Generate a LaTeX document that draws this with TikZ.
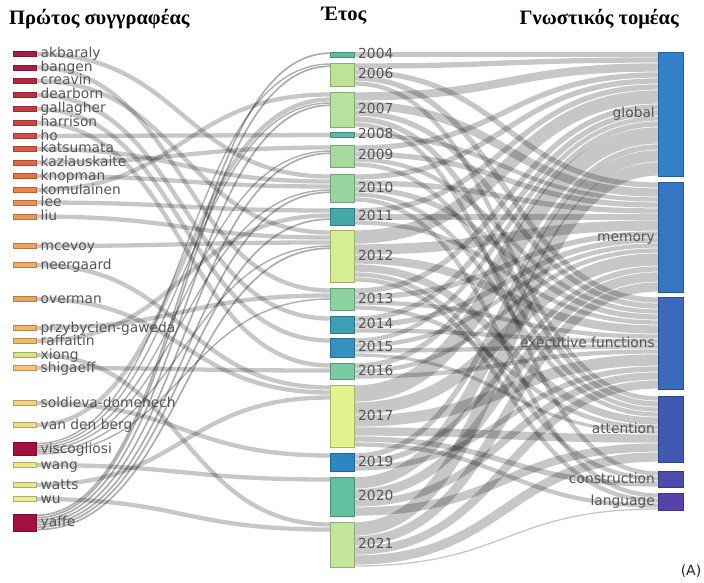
\documentclass[tikz,border=0pt]{standalone}
\usepackage{fontspec}
\setmainfont{DejaVu Sans}
\newfontfamily\ttlfont{Liberation Serif}
\usetikzlibrary{backgrounds}
\definecolor{lblgray}{HTML}{555555}
% authors
\definecolor{cakb}{HTML}{A41E46}\definecolor{cban}{HTML}{A91E44}\definecolor{ccre}{HTML}{B22843}
\definecolor{cdea}{HTML}{BA3244}\definecolor{cgal}{HTML}{C13A44}\definecolor{char}{HTML}{CB4543}
\definecolor{cho}{HTML}{D24E44}\definecolor{ckat}{HTML}{DB5B43}\definecolor{ckaz}{HTML}{E06844}
\definecolor{ckno}{HTML}{E67546}\definecolor{ckom}{HTML}{EC834B}\definecolor{clee}{HTML}{EE9050}
\definecolor{cliu}{HTML}{F09654}\definecolor{cmce}{HTML}{F3A45A}\definecolor{cnee}{HTML}{F3AA5E}
\definecolor{cove}{HTML}{EBA560}\definecolor{cprz}{HTML}{F5B466}\definecolor{craf}{HTML}{F3BA6B}
\definecolor{cxio}{HTML}{D9E485}\definecolor{cshi}{HTML}{F5C472}\definecolor{csol}{HTML}{F3D27E}
\definecolor{cvdb}{HTML}{F2DC86}\definecolor{cvis}{HTML}{A3103F}\definecolor{cwan}{HTML}{EEE58B}
\definecolor{cwat}{HTML}{E9E48E}\definecolor{cwu}{HTML}{E8EC92}\definecolor{cyaf}{HTML}{A30F40}
% years
\definecolor{c2004}{HTML}{5DBFA0}\definecolor{c2006}{HTML}{BDE495}\definecolor{c2007}{HTML}{B5E29C}
\definecolor{c2008}{HTML}{5ABBA2}\definecolor{c2009}{HTML}{A6DBA0}\definecolor{c2010}{HTML}{98D5A1}
\definecolor{c2011}{HTML}{45A9A9}\definecolor{c2012}{HTML}{D5EE93}\definecolor{c2013}{HTML}{8DD2A1}
\definecolor{c2014}{HTML}{3B9FB7}\definecolor{c2015}{HTML}{3591BE}\definecolor{c2016}{HTML}{77CCA1}
\definecolor{c2017}{HTML}{E2F28C}\definecolor{c2019}{HTML}{2E86C1}\definecolor{c2020}{HTML}{62C1A2}
\definecolor{c2021}{HTML}{C3E69A}
% domains
\definecolor{cG}{HTML}{3382C9}\definecolor{cM}{HTML}{3576C1}\definecolor{cE}{HTML}{3A69BD}
\definecolor{cA}{HTML}{3F59B2}\definecolor{cC}{HTML}{4A4DAB}\definecolor{cL}{HTML}{5543A8}

\tikzset{
  anybar/.style={anchor=north west, inner sep=0pt, outer sep=0pt, fill=#1, draw=#1!75!black, line width=0.5pt},
  abar/.style={anybar=#1, minimum width=23pt},
  ybar/.style={anybar=#1, minimum width=24pt},
  dbar/.style={anybar=#1, minimum width=25pt},
  lbltext/.style={font=\fontsize{13.8}{16}\selectfont, text=lblgray, inner sep=0pt, text height=9pt, text depth=1pt},
  alab/.style={lbltext, label distance=4.5pt},
  ylab/.style={lbltext, label distance=4pt},
  dlab/.style={lbltext, label distance=3pt},
  ttl/.style={font=\ttlfont\bfseries\fontsize{20.5}{24}\selectfont, inner sep=0pt},
  flow/.style={draw=black, draw opacity=0.22, line cap=butt},
  thinflow/.style={draw=black, draw opacity=0.32, line cap=butt},
}
\newcommand\auth[5]{\node[abar=#4, minimum height=#3pt, label={[alab]right:#5}] (#1) at (13,#2) {};}
\newcommand\yr[3]{\node[ybar=c#1, minimum height=#3pt, label={[ylab]right:#1}] (y#1) at (330,#2) {};}
\newcommand\dom[5]{\node[dbar=#4, minimum height=#3pt, label={[dlab]left:#5}] (#1) at (658,#2) {};}
% link: source, target, width, control distance, style
\newcommand\lnk[5]{%
  \ifcsname o@#1\endcsname\else\expandafter\gdef\csname o@#1\endcsname{0}\fi
  \ifcsname i@#2\endcsname\else\expandafter\gdef\csname i@#2\endcsname{0}\fi
  \pgfmathsetmacro\sOff{\csname o@#1\endcsname+#3/2}%
  \pgfmathsetmacro\tOff{\csname i@#2\endcsname+#3/2}%
  \pgfmathsetmacro\sNew{\csname o@#1\endcsname+#3}%
  \pgfmathsetmacro\tNew{\csname i@#2\endcsname+#3}%
  \expandafter\xdef\csname o@#1\endcsname{\sNew}%
  \expandafter\xdef\csname i@#2\endcsname{\tNew}%
  \pgfmathsetmacro\lw{max(#3-0.7,0.9)}%
  \draw[#5, line width=\lw pt] ([yshift=-\sOff pt]#1.north east) .. controls +(#4pt,0pt) and +(-#4pt,0pt) .. ([yshift=-\tOff pt]#2.north west);%
}
\newcommand\al[3]{\lnk{#1}{#2}{#3}{147}{flow}}
\newcommand\tl[3]{\lnk{#1}{#2}{#3}{147}{thinflow}}
\newcommand\dl[3]{\lnk{#1}{#2}{#3}{152}{flow}}

\begin{document}
\begin{tikzpicture}[x=1pt,y=-1pt]
\path[use as bounding box] (0,0) rectangle (704,583);

% titles
\node[ttl, anchor=base west] (t1) at (9,25) {Πρώτος συγγραφέας};
\node[ttl, anchor=base] (t2) at (344,21) {Έτος};
\node[ttl, anchor=base east] (t3) at (679,25) {Γνωστικός τομέας};
\node[font=\fontsize{14}{16}\selectfont, text=black!85, inner sep=0pt] (tA) at (691,571) {(A)};

% authors
\auth{akb}{51.5}{5}{cakb}{akbaraly}
\auth{ban}{65}{5}{cban}{bangen}
\auth{cre}{78.5}{5}{ccre}{creavin}
\auth{dea}{92.5}{5}{cdea}{dearborn}
\auth{gal}{106.5}{5}{cgal}{gallagher}
\auth{har}{120.5}{5}{char}{harrison}
\auth{ho}{133.5}{5}{cho}{ho}
\auth{kat}{146.5}{5}{ckat}{katsumata}
\auth{kaz}{160}{5}{ckaz}{kazlauskaite}
\auth{kno}{173.5}{5}{ckno}{knopman}
\auth{kom}{187.5}{5}{ckom}{komulainen}
\auth{lee}{200}{5}{clee}{lee}
\auth{liu}{214}{5}{cliu}{liu}
\auth{mce}{243.5}{5}{cmce}{mcevoy}
\auth{nee}{262.5}{5}{cnee}{neergaard}
\auth{ove}{296.5}{5}{cove}{overman}
\auth{prz}{325.5}{5}{cprz}{przybycien-gaweda}
\auth{raf}{338.5}{5}{craf}{raffaitin}
\auth{xio}{352.5}{5}{cxio}{xiong}
\auth{shi}{365.5}{5}{cshi}{shigaeff}
\auth{sol}{400.5}{5}{csol}{soldieva-domenech}
\auth{vdb}{422.5}{5}{cvdb}{van den berg}
\auth{vis}{442.5}{13}{cvis}{viscogliosi}
\auth{wan}{462.5}{5}{cwan}{wang}
\auth{wat}{482.5}{5}{cwat}{watts}
\auth{wu}{496.5}{5}{cwu}{wu}
\auth{yaf}{514}{17}{cyaf}{yaffe}

% years
\yr{2004}{52}{5}
\yr{2006}{63}{23}
\yr{2007}{92}{35}
\yr{2008}{132.5}{5}
\yr{2009}{145}{22}
\yr{2010}{174}{28}
\yr{2011}{208}{17}
\yr{2012}{230}{52}
\yr{2013}{288}{22}
\yr{2014}{316}{17}
\yr{2015}{338}{19}
\yr{2016}{363}{16}
\yr{2017}{385}{62}
\yr{2019}{453}{18}
\yr{2020}{477}{39}
\yr{2021}{522}{45}

% domains
\dom{dG}{52}{124}{cG}{global}
\dom{dM}{182}{110}{cM}{memory}
\dom{dE}{297}{92}{cE}{executive functions}
\dom{dA}{396}{66}{cA}{attention}
\dom{dC}{471}{16}{cC}{construction}
\dom{dL}{493}{17}{cL}{language}

\begin{scope}[on background layer]
\fill[white] (0,0) rectangle (704,583);
% author -> year
\al{akb}{y2010}{5}
\al{ban}{y2013}{5}
\al{cre}{y2012}{5}
\al{dea}{y2014}{5}
\al{gal}{y2015}{5}
\al{har}{y2016}{5}
\al{ho}{y2008}{5}
\al{kat}{y2010}{5}
\al{kaz}{y2009}{5}
\al{kno}{y2010}{5}
\al{kom}{y2007}{5}
\al{lee}{y2011}{5}
\al{liu}{y2012}{5}
\al{mce}{y2012}{5}
\al{nee}{y2017}{5}
\al{ove}{y2017}{5}
\al{prz}{y2013}{5}
\al{raf}{y2011}{5}
\al{xio}{y2021}{5}
\al{shi}{y2016}{5}
\al{sol}{y2019}{5}
\al{vdb}{y2007}{5}
\tl{vis}{y2006}{2.1}
\tl{vis}{y2007}{2.1}
\tl{vis}{y2009}{2.1}
\tl{vis}{y2010}{2.1}
\tl{vis}{y2012}{2.1}
\tl{vis}{y2013}{2.1}
\al{wan}{y2020}{5}
\al{wat}{y2017}{5}
\al{wu}{y2021}{5}
\tl{yaf}{y2004}{2.4}
\tl{yaf}{y2006}{2.4}
\tl{yaf}{y2007}{2.4}
\tl{yaf}{y2009}{2.4}
\tl{yaf}{y2010}{2.4}
\tl{yaf}{y2011}{2.4}
\tl{yaf}{y2012}{2.4}
% year -> domain
\dl{y2004}{dG}{5}
\dl{y2006}{dG}{6}\dl{y2006}{dM}{6}\dl{y2006}{dE}{6}\dl{y2006}{dA}{5}
\dl{y2007}{dG}{9}\dl{y2007}{dM}{9}\dl{y2007}{dE}{6}\dl{y2007}{dA}{6}\dl{y2007}{dC}{5}
\dl{y2008}{dM}{5}
\dl{y2009}{dG}{6}\dl{y2009}{dM}{6}\dl{y2009}{dE}{5}\dl{y2009}{dA}{5}
\dl{y2010}{dG}{6}\dl{y2010}{dM}{6}\dl{y2010}{dE}{6}\dl{y2010}{dA}{5}\dl{y2010}{dL}{5}
\dl{y2011}{dG}{6}\dl{y2011}{dM}{6}\dl{y2011}{dE}{5}
\dl{y2012}{dG}{14}\dl{y2012}{dM}{11}\dl{y2012}{dE}{9}\dl{y2012}{dA}{8}\dl{y2012}{dC}{5}\dl{y2012}{dL}{5}
\dl{y2013}{dG}{6}\dl{y2013}{dM}{6}\dl{y2013}{dE}{5}\dl{y2013}{dA}{5}
\dl{y2014}{dG}{6}\dl{y2014}{dM}{6}\dl{y2014}{dE}{5}
\dl{y2015}{dG}{5}\dl{y2015}{dM}{5}\dl{y2015}{dE}{5}\dl{y2015}{dA}{4}
\dl{y2016}{dG}{6}\dl{y2016}{dM}{5}\dl{y2016}{dE}{5}
\dl{y2017}{dG}{17}\dl{y2017}{dM}{13}\dl{y2017}{dE}{12}\dl{y2017}{dA}{9}\dl{y2017}{dC}{6}\dl{y2017}{dL}{5}
\dl{y2019}{dG}{6}\dl{y2019}{dM}{6}\dl{y2019}{dE}{6}
\dl{y2020}{dG}{12}\dl{y2020}{dM}{10}\dl{y2020}{dE}{8}\dl{y2020}{dA}{9}
\dl{y2021}{dG}{14}\dl{y2021}{dM}{10}\dl{y2021}{dE}{9}\dl{y2021}{dA}{10}\dl{y2021}{dL}{2}
\end{scope}
\end{tikzpicture}
\end{document}
